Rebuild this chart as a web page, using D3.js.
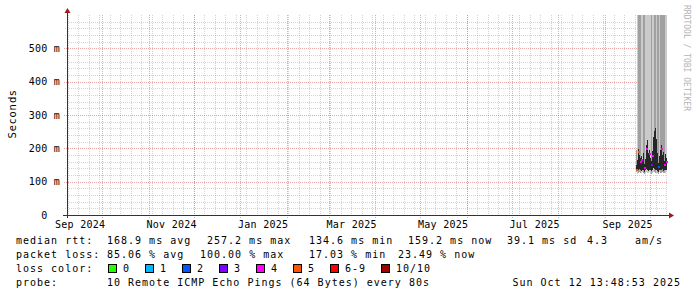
<!DOCTYPE html>
<html>
<head>
<meta charset="utf-8">
<script src="https://cdn.jsdelivr.net/npm/d3@7"></script>
<style>
body { margin: 0; background: #fff; }
svg { display: block; }
text { font-family: "DejaVu Sans Mono", monospace; }
</style>
</head>
<body>
<div id="plot"></div>
<script>
// sample times (one rrd step = 16h) and values
var dates = ["2025-09-21T20:00Z","2025-09-22T12:00Z","2025-09-23T04:00Z","2025-09-23T20:00Z",
  "2025-09-24T12:00Z","2025-09-25T04:00Z","2025-09-25T20:00Z","2025-09-26T12:00Z",
  "2025-09-27T04:00Z","2025-09-27T20:00Z","2025-09-28T12:00Z","2025-09-29T04:00Z",
  "2025-09-29T20:00Z","2025-09-30T12:00Z","2025-10-01T04:00Z","2025-10-01T20:00Z",
  "2025-10-02T12:00Z","2025-10-03T04:00Z","2025-10-03T20:00Z","2025-10-04T12:00Z",
  "2025-10-05T04:00Z","2025-10-05T20:00Z","2025-10-06T12:00Z","2025-10-07T04:00Z",
  "2025-10-07T20:00Z","2025-10-08T12:00Z","2025-10-09T04:00Z","2025-10-09T20:00Z",
  "2025-10-10T12:00Z","2025-10-11T04:00Z","2025-10-11T20:00Z"];
// median rtt in ms
var median = [136,152,188,168,158,165,148,170,140,155,198,212,172,182,160,150,
  178,222,240,257,215,172,145,162,180,198,168,176,150,170,159];
// lost pings out of 10 (10 = all lost, no median mark)
var loss = [5,10,5,10,4,4,10,10,4,10,4,10,10,4,10,3,4,10,10,10,10,10,2,10,10,4,10,10,4,10,4];
// smoke extent in ms (outer) and dense core
var smokeLo = [128,124,126,130,127,125,128,126,124,127,129,126,125,128,127,124,
  126,130,128,127,125,126,124,128,127,126,129,125,127,126,128];
var smokeHi = [195,900,900,900,900,900,900,900,900,900,900,900,900,900,900,900,
  900,900,900,900,900,900,900,900,900,900,900,900,900,900,900];
var smokeDense = [1,0,1,1,1,0,0,1,1,0,0,0,0,0,0,1,0,0,1,1,0,1,1,0,1,1,1,1,1,0,0];
var coreLo = [134,132,134,138,135,133,136,134,130,135,138,134,133,136,135,132,
  134,140,138,136,134,133,130,136,135,134,137,133,134,134,136];
var coreHi = [150,165,198,180,170,178,162,185,152,168,210,225,186,195,172,162,
  192,235,252,262,228,186,156,176,194,210,180,190,162,182,170];

var yTicks = [0,100,200,300,400,500];
var lossLabels = ["0","1","2","3","4","5","6-9","10/10"];
var lossColors = ["#26ff00","#00b8ff","#0059ff","#7e00ff","#ff00ff","#ff5500","#ff0000","#a10000"];
var legendRtt = [["median rtt:",16],["168.9 ms avg",107],["257.2 ms max",207],["134.6 ms min",309],
  ["159.2 ms now",408],["39.1 ms sd",507],["4.3",587],["am/s",635]];
var legendLoss = [["packet loss:",16],["85.06 % avg",107],["100.00 % max",200],
  ["17.03 % min",309],["23.49 % now",398]];
var probeText = "10 Remote ICMP Echo Pings (64 Bytes) every 80s";
var stampText = "Sun Oct 12 13:48:53 2025";

var width = 697, height = 297;
var plotL = 67, plotR = 667, plotT = 15, plotB = 215;

var svg = d3.select("#plot").append("svg")
    .attr("width", width)
    .attr("height", height);

var x = d3.scaleUtc()
    .domain([new Date("2024-09-07T13:48:53Z"), new Date("2025-10-12T13:48:53Z")])
    .range([plotL, plotR]);
var y = d3.scaleLinear().domain([0, 600]).range([plotB, plotT]).clamp(true);

var data = dates.map(function(d, i) {
    return {date: new Date(d), median: median[i], loss: loss[i], lo: smokeLo[i], hi: smokeHi[i],
            dense: smokeDense[i], clo: coreLo[i], chi: coreHi[i]};
});

function px(v) { return Math.round(v) + 0.5; }

// grid: minor first, then major
var g = svg.append("g").attr("shape-rendering", "crispEdges");
var minorCol = "rgba(128,128,128,0.35)", majorCol = "rgba(210,80,80,0.5)";

y.ticks(30).filter(function(d) { return d % 100 != 0; }).forEach(function(d) {
    g.append("line").attr("x1", plotL - 2).attr("x2", plotR)
        .attr("y1", px(y(d))).attr("y2", px(y(d)))
        .attr("stroke", minorCol).attr("stroke-dasharray", "1,1");
});
d3.utcSunday.range(x.domain()[0], x.domain()[1]).forEach(function(d) {
    g.append("line").attr("x1", px(x(d))).attr("x2", px(x(d)))
        .attr("y1", plotT).attr("y2", plotB + 2)
        .attr("stroke", minorCol).attr("stroke-dasharray", "1,1");
});
yTicks.filter(function(d) { return d > 0; }).forEach(function(d) {
    g.append("line").attr("x1", plotL - 3).attr("x2", plotR)
        .attr("y1", px(y(d))).attr("y2", px(y(d)))
        .attr("stroke", majorCol).attr("stroke-dasharray", "1,1");
});
d3.utcMonth.range(x.domain()[0], x.domain()[1]).forEach(function(d) {
    g.append("line").attr("x1", px(x(d))).attr("x2", px(x(d)))
        .attr("y1", plotT).attr("y2", plotB + 3)
        .attr("stroke", majorCol).attr("stroke-dasharray", "1,1");
});

// smoke
var step = 1.05;
var smoke = svg.append("g").attr("shape-rendering", "crispEdges");
smoke.selectAll(".outer").data(data).enter().append("rect")
    .attr("x", function(d) { return Math.round(x(d.date)); })
    .attr("width", step)
    .attr("y", function(d) { return y(d.hi); })
    .attr("height", function(d) { return y(d.lo) - y(d.hi); })
    .attr("fill", function(d) { return d.dense ? "#a0a0a0" : "#cacaca"; });
smoke.selectAll(".core").data(data).enter().append("rect")
    .attr("x", function(d) { return Math.round(x(d.date)); })
    .attr("width", step)
    .attr("y", function(d) { return y(d.chi); })
    .attr("height", function(d) { return y(d.clo) - y(d.chi); })
    .attr("fill", "#262626");

// median, coloured by loss
function lossIndex(l) { return l >= 10 ? 7 : (l >= 6 ? 6 : l); }
smoke.selectAll(".med").data(data.filter(function(d) { return d.loss < 10; })).enter().append("rect")
    .attr("x", function(d) { return Math.round(x(d.date)); })
    .attr("width", 2)
    .attr("y", function(d) { return Math.round(y(d.median)) - 1; })
    .attr("height", 2)
    .attr("fill", function(d) { return lossColors[lossIndex(d.loss)]; });

// axes lines and arrows
var axCol = "#333", arrowCol = "#9e1b1b";
svg.append("line").attr("x1", plotL - 4).attr("x2", plotR + 2)
    .attr("y1", plotB + 0.5).attr("y2", plotB + 0.5)
    .attr("stroke", axCol).attr("shape-rendering", "crispEdges");
svg.append("line").attr("x1", plotL + 0.5).attr("x2", plotL + 0.5)
    .attr("y1", plotB + 3).attr("y2", plotT - 3)
    .attr("stroke", axCol).attr("shape-rendering", "crispEdges");
svg.append("path").attr("d", "M" + (plotR + 2) + "," + (plotB - 2.5) + "L" + (plotR + 7) + "," + (plotB + 0.5) +
    "L" + (plotR + 2) + "," + (plotB + 3.5) + "Z").attr("fill", arrowCol);
svg.append("path").attr("d", "M" + (plotL - 2.5) + "," + (plotT - 2) + "L" + (plotL + 0.5) + "," + (plotT - 7) +
    "L" + (plotL + 3.5) + "," + (plotT - 2) + "Z").attr("fill", arrowCol);

// y axis labels
var yAxis = svg.append("g").attr("transform", "translate(" + plotL + ",0)")
    .call(d3.axisLeft(y).tickValues(yTicks).tickSize(0).tickPadding(7)
        .tickFormat(function(d) { return d == 0 ? "0\u00a0\u00a0" : d + " m"; }));
yAxis.select(".domain").remove();
yAxis.selectAll("text").attr("font-family", "DejaVu Sans Mono").attr("font-size", 10)
    .attr("fill", "#000").style("letter-spacing", "0.25px");

// x axis labels, centred in the month after each 2-month tick
var labelDates = d3.utcMonth.every(2).range(new Date("2024-09-01T00:00Z"), x.domain()[1])
    .map(function(d) { return d3.utcDay.offset(d, 15); });
var xAxis = svg.append("g").attr("transform", "translate(0," + plotB + ")")
    .call(d3.axisBottom(x).tickValues(labelDates).tickSize(0).tickPadding(6)
        .tickFormat(d3.utcFormat("%b %Y")));
xAxis.select(".domain").remove();
xAxis.selectAll("text").attr("font-family", "DejaVu Sans Mono").attr("font-size", 10)
    .attr("fill", "#000").style("letter-spacing", "0.25px");

// vertical titles
svg.append("text")
    .attr("transform", "translate(15.5,114) rotate(-90)")
    .attr("text-anchor", "middle")
    .style("font-family", "DejaVu Sans")
    .style("font-size", "10px")
    .style("letter-spacing", "1px")
    .text("Seconds");
svg.append("text")
    .attr("transform", "translate(684,5) rotate(90)")
    .style("font-size", "8px")
    .attr("fill", "#b4b4b4")
    .text("RRDTOOL / TOBI OETIKER");

// legend
var leg = svg.append("g").style("font-size", "10px").style("letter-spacing", "1px");
function row(items, yy) {
    items.forEach(function(it) {
        leg.append("text").attr("x", it[1]).attr("y", yy).text(it[0]);
    });
}
row(legendRtt, 244);
row(legendLoss, 258);
row([["loss color:", 16]], 272);
var lx = 108;
lossLabels.forEach(function(l, i) {
    leg.append("rect").attr("x", lx + 0.5).attr("y", 264.5).attr("width", 8).attr("height", 8)
        .attr("fill", lossColors[i]).attr("stroke", "#000").attr("shape-rendering", "crispEdges");
    leg.append("text").attr("x", lx + 15).attr("y", 272).text(l);
    lx += 15 + l.length * 7 + 15;
});
row([["probe:", 16], [probeText, 107]], 286);
leg.append("text").attr("x", 681).attr("y", 286).attr("text-anchor", "end").text(stampText);
</script>
</body>
</html>
